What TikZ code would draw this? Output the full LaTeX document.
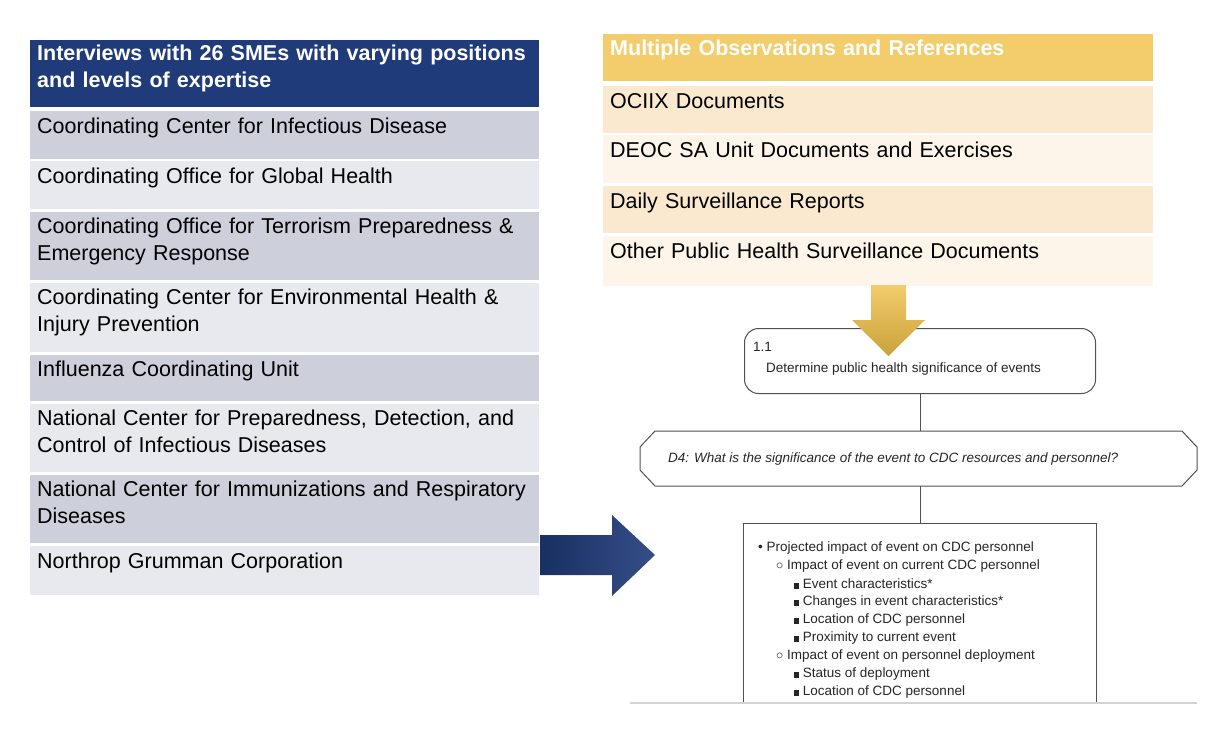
\documentclass[tikz,border=0pt]{standalone}
\usepackage{fontspec}
\setmainfont{Liberation Sans}
\usetikzlibrary{shadows}
\definecolor{navy}{HTML}{1F3B7A}
\definecolor{rowd}{HTML}{CDCFDA}
\definecolor{rowl}{HTML}{E8E9EE}
\definecolor{gold}{HTML}{F3CC6B}
\definecolor{goldd}{HTML}{C9A23A}
\definecolor{ry}{HTML}{FBE9CF}
\definecolor{rl}{HTML}{FDF5EA}
\definecolor{ln}{HTML}{505050}
\tikzset{
 cell/.style={anchor=north west,inner xsep=7pt,inner ysep=0pt,align=left,text width=495pt,font=\fontsize{21.5}{27}\selectfont,minimum width=509pt},
 rcell/.style={anchor=north west,inner xsep=7pt,inner ysep=0pt,align=left,text width=536pt,font=\fontsize{21.5}{27}\selectfont,minimum width=550pt},
 sm/.style={font=\fontsize{13.5}{16}\selectfont,anchor=west,inner sep=0pt,text=black!85},
 ch/.style={draw=ln,line width=1pt}
}
\begin{document}
\begin{tikzpicture}[x=1pt,y=-1pt]
\useasboundingbox (0,0) rectangle (1232,729);
% left table
\fill[navy] (30,40) rectangle (539,107);
\node[cell,text=white,font=\bfseries\fontsize{21.5}{27}\selectfont] (h1) at (30,45) {Interviews with 26 SMEs with varying positions and levels of expertise};
\foreach \a/\b/\c in {111/159/rowd,161/209/rowl,212/280/rowd,283/352/rowl,355/401/rowd,404/472/rowl,475/543/rowd,546/595/rowl}
 \fill[\c] (30,\a) rectangle (539,\b);
\node[cell] (l1) at (30,118) {Coordinating Center for Infectious Disease};
\node[cell] (l2) at (30,168) {Coordinating Office for Global Health};
\node[cell] (l3) at (30,218) {Coordinating Office for Terrorism Preparedness \& Emergency Response};
\node[cell] (l4) at (30,289) {Coordinating Center for Environmental Health \& Injury Prevention};
\node[cell] (l5) at (30,361) {Influenza Coordinating Unit};
\node[cell] (l6) at (30,410) {National Center for Preparedness, Detection, and Control of Infectious Diseases};
\node[cell] (l7) at (30,481) {National Center for Immunizations and Respiratory Diseases};
\node[cell] (l8) at (30,553) {Northrop Grumman Corporation};
% right table
\fill[gold] (603,34) rectangle (1153,81);
\foreach \a/\b/\c in {86/133/ry,135/183/rl,186/233/ry,236/286/rl}
 \fill[\c] (603,\a) rectangle (1153,\b);
\node[rcell,text=white,font=\bfseries\fontsize{21.5}{27}\selectfont] (h2) at (603,40) {Multiple Observations and References};
\node[rcell] (r1) at (603,93) {OCIIX Documents};
\node[rcell] (r2) at (603,142) {DEOC SA Unit Documents and Exercises};
\node[rcell] (r3) at (603,193) {Daily Surveillance Reports};
\node[rcell] (r4) at (603,243) {Other Public Health Surveillance Documents};
% panel
\fill[white,drop shadow={opacity=0.35,shadow xshift=0pt,shadow yshift=-2pt}] (630,325) rectangle (1197,702);
\node[ch,rounded corners=14pt,minimum width=351pt,minimum height=65pt,anchor=north west] (b11) at (744,328) {};
\node[sm] at (753,347) {1.1};
\node[sm] at (766,369) {Determine public health significance of events};
\draw[ch] (655,431) -- (1182,431) -- (1197,447) -- (1197,470) -- (1182,486) -- (655,486) -- (640,470) -- (640,447) -- cycle;
\coordinate (oct) at (920,431);
\coordinate (octb) at (920,486);
\node[sm,font=\itshape\fontsize{13.5}{16}\selectfont] at (668,459) {D4: What is the significance of the event to CDC resources and personnel?};
\draw[ch] (b11.south) -- (oct);
\coordinate (bx) at (920,523);
\draw[ch] (octb) -- (bx);
\draw[ch] (743,702) -- (743,523) -- (1096,523) -- (1096,702);
\node[sm] at (758,548) {\textbullet\ Projected impact of event on CDC personnel};
\node[sm] at (776,566) {$\circ$ Impact of event on current CDC personnel};
\node[sm] at (794,584) {\rule{5pt}{6pt}\ Event characteristics*};
\node[sm] at (794,602) {\rule{5pt}{6pt}\ Changes in event characteristics*};
\node[sm] at (794,620) {\rule{5pt}{6pt}\ Location of CDC personnel};
\node[sm] at (794,638) {\rule{5pt}{6pt}\ Proximity to current event};
\node[sm] at (776,656) {$\circ$ Impact of event on personnel deployment};
\node[sm] at (794,674) {\rule{5pt}{6pt}\ Status of deployment};
\node[sm] at (794,692) {\rule{5pt}{6pt}\ Location of CDC personnel};
% arrows
\shade[top color=gold,bottom color=goldd] (871,285) -- (906,285) -- (906,320) -- (925,320) -- (888.5,356) -- (852,320) -- (871,320) -- cycle;
\shade[left color=navy!80!black,right color=navy!90!white] (540,535) -- (612,535) -- (612,515) -- (655,555) -- (612,596) -- (612,575) -- (540,575) -- cycle;
\end{tikzpicture}
\end{document}
